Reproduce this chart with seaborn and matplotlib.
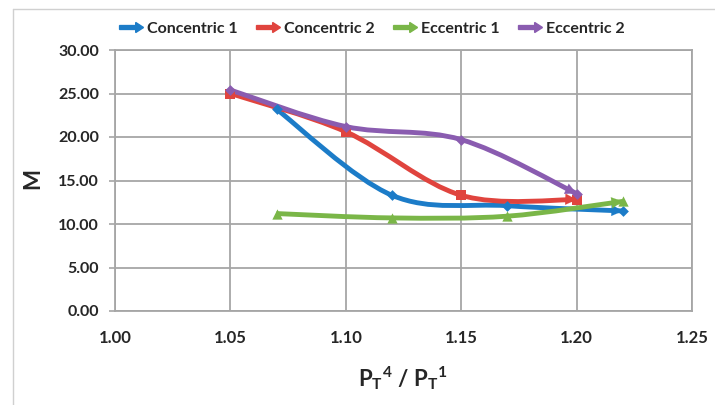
import numpy as np
import pandas as pd
import matplotlib
matplotlib.use("Agg")
import matplotlib.pyplot as plt
import matplotlib.patches as mpatches
import seaborn as sns
from matplotlib.path import Path
from matplotlib.lines import Line2D
from matplotlib.legend_handler import HandlerPatch

# ---- data ----
series_names = ["Concentric 1", "Concentric 2", "Eccentric 1", "Eccentric 2"]
conc1_x = [1.07, 1.12, 1.17, 1.22]
conc1_y = [23.2, 13.3, 12.1, 11.5]
conc2_x = [1.05, 1.10, 1.15, 1.20]
conc2_y = [25.0, 20.6, 13.3, 12.8]
ecc1_x = [1.07, 1.12, 1.17, 1.22]
ecc1_y = [11.2, 10.7, 10.9, 12.6]
ecc2_x = [1.05, 1.10, 1.15, 1.20]
ecc2_y = [25.4, 21.2, 19.7, 13.5]
x_ticks = [1.00, 1.05, 1.10, 1.15, 1.20, 1.25]
y_ticks = [0, 5, 10, 15, 20, 25, 30]

colors = ["#1c7cc8", "#e0443e", "#7ab648", "#8a5cb0"]
markers = ["D", "s", "^", "D"]
msizes = [30, 55, 55, 30]

xs = [conc1_x, conc2_x, ecc1_x, ecc2_x]
ys = [conc1_y, conc2_y, ecc1_y, ecc2_y]

df = pd.concat([pd.DataFrame({"x": x, "y": y, "series": n})
                for x, y, n in zip(xs, ys, series_names)], ignore_index=True)

sns.set_style("white")
plt.rcParams["font.family"] = ["Lato", "DejaVu Sans"]
plt.rcParams["mathtext.fontset"] = "custom"
plt.rcParams["mathtext.bf"] = "Lato:bold"
plt.rcParams["mathtext.rm"] = "Lato"
plt.rcParams["mathtext.it"] = "Lato:italic"

fig = plt.figure(figsize=(7.15, 4.05), dpi=100)
ax = fig.add_axes([115/715, 1 - 311/405, (692-115)/715, (311-50)/405])


def smooth_path(x, y):
    # excel-style smoothed line (catmull-rom as cubic bezier)
    pts = np.column_stack([x, y])
    n = len(pts)
    verts = [pts[0]]
    codes = [Path.MOVETO]
    c2 = pts[0]
    for i in range(n - 1):
        p0 = pts[max(i - 1, 0)]
        p1 = pts[i]
        p2 = pts[i + 1]
        p3 = pts[min(i + 2, n - 1)]
        c1 = p1 + (p2 - p0) / 6
        c2 = p2 - (p3 - p1) / 6
        verts += [c1, c2, p2]
        codes += [Path.CURVE4] * 3
    return Path(verts, codes), c2


for x, y, c in zip(xs, ys, colors):
    path, last_ctrl = smooth_path(x, y)
    ax.add_patch(mpatches.PathPatch(path, fill=False, ec=c, lw=3.5, zorder=3,
                                    capstyle="butt"))
    ax.annotate("", xy=(x[-1], y[-1]), xytext=tuple(last_ctrl),
                arrowprops=dict(arrowstyle="-|>", color=c, lw=0.1,
                                mutation_scale=20, shrinkA=0, shrinkB=0),
                zorder=4)

for n, c, m, s in zip(series_names, colors, markers, msizes):
    sub = df[df["series"] == n]
    sns.scatterplot(data=sub, x="x", y="y", color=c, marker=m, s=s,
                    edgecolor=c, linewidth=0, ax=ax, zorder=5, legend=False)

ax.set_xlim(1.00, 1.25)
ax.set_ylim(0, 30)
ax.set_xticks(x_ticks)
ax.set_xticklabels([f"{v:.2f}" for v in x_ticks], fontsize=12, fontweight="bold")
ax.set_yticks(y_ticks)
ax.set_yticklabels([f"{v:.2f}" for v in y_ticks], fontsize=11.5, fontweight="bold")
ax.tick_params(axis="x", length=0, pad=14)
ax.tick_params(axis="y", length=4, width=1.2, color="#a6a6a6", pad=7.5, direction="out", left=True)
ax.grid(True, color="#a6a6a6", lw=1.3)
for sp in ax.spines.values():
    sp.set_color("#a6a6a6")
    sp.set_linewidth(1.3)
ax.set_xlabel("")
ax.set_ylabel("")

fig.text(33/715, 1 - 178/405, "M", rotation=90, ha="center", va="center",
         fontsize=16, fontweight="bold")
fig.text(403/715, 1 - 378/405, r"$\mathbf{{P_T}^4\ /\ {P_T}^1}$",
         ha="center", va="center", fontsize=16)

# chart border lines (top and left)
fig.add_artist(Line2D([13/715, 1], [1 - 9/405, 1 - 9/405], color="#d0d0d0", lw=1))
fig.add_artist(Line2D([13/715, 13/715], [0, 1 - 9/405], color="#d0d0d0", lw=1))


def make_arrow(legend, orig_handle, xdescent, ydescent, width, height, fontsize):
    return mpatches.FancyArrow(0, height / 2, width, 0, width=height * 0.35,
                               head_width=height * 0.9, head_length=height * 0.7,
                               length_includes_head=True,
                               color=orig_handle.get_facecolor())


handles = [mpatches.Patch(color=c) for c in colors]
fig.legend(handles, series_names, loc="center", bbox_to_anchor=(372/715, 1 - 29/405),
           ncol=4, frameon=False, handlelength=1.5, columnspacing=1.2,
           handletextpad=0.2, prop={"weight": "bold", "size": 11.5},
           handler_map={mpatches.Patch: HandlerPatch(patch_func=make_arrow)})

fig.savefig("out.png", dpi=100)
